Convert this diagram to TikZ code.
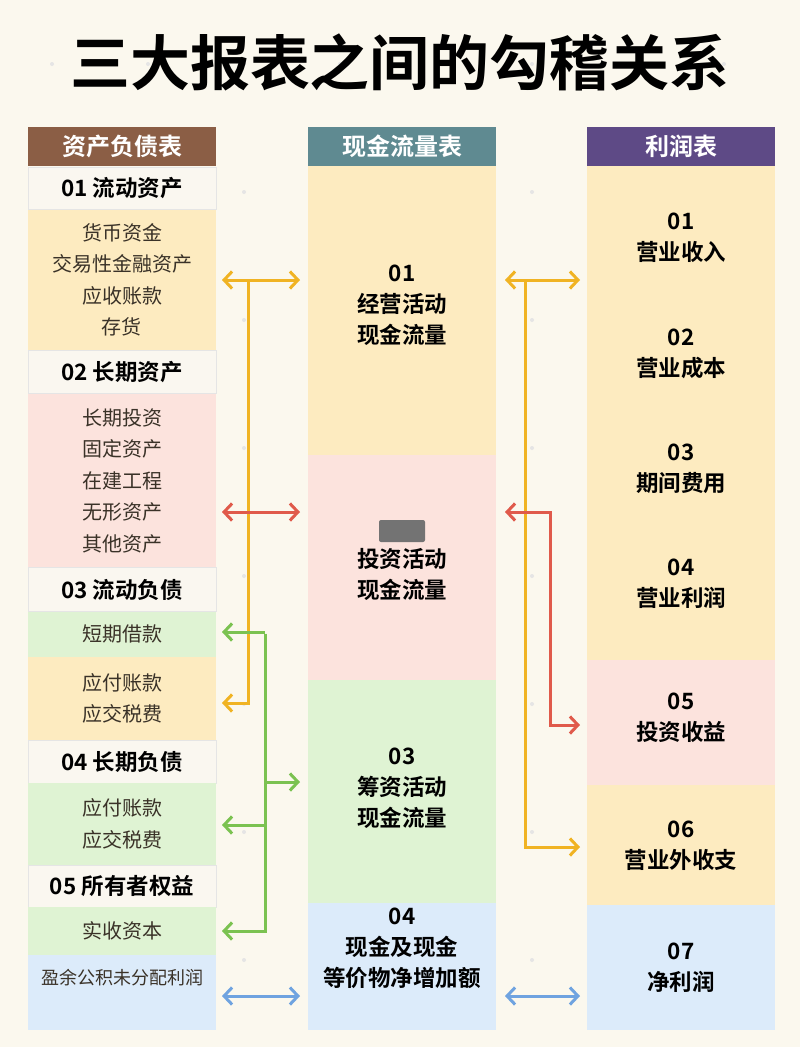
\documentclass[tikz,border=0pt]{standalone}
\usepackage{fontspec}
\newfontfamily\cjk{Noto Sans CJK SC}
\newfontfamily\cjkb{Noto Sans CJK SC Bold}
\usetikzlibrary{arrows.meta}
\definecolor{bg}{HTML}{FBF8EE}
\definecolor{cy}{HTML}{FDEBC0}
\definecolor{cp}{HTML}{FCE3DD}
\definecolor{cg}{HTML}{DFF3D3}
\definecolor{cb}{HTML}{DCEBFA}
\definecolor{cw}{HTML}{FAF7F0}
\definecolor{hbrown}{HTML}{8B5E45}
\definecolor{hteal}{HTML}{5F8A91}
\definecolor{hpurp}{HTML}{5E4A86}
\definecolor{ao}{HTML}{F0B323}
\definecolor{ar}{HTML}{E05A4B}
\definecolor{ag}{HTML}{7BC251}
\definecolor{ab}{HTML}{6FA3E0}
\definecolor{tx}{HTML}{3A3228}
\begin{document}
\begin{tikzpicture}[x=1pt,y=-1pt,
  box/.style={minimum width=188pt,inner sep=0pt,outer sep=0pt,draw=none,align=center,text=tx,font=\cjk\fontsize{20}{31.5}\selectfont},
  head/.style={box,text=white,font=\cjkb\fontsize{24}{26}\selectfont,minimum height=39pt},
  sub/.style={box,fill=cw,draw=black!10,line width=1pt,text=black,font=\cjkb\fontsize{22.5}{26}\selectfont},
  mid/.style={box,text=black,font=\cjkb\fontsize{22.5}{31}\selectfont},
  arr/.style={line width=3pt,-{Straight Barb[length=8pt,width=17pt]}},
  darr/.style={line width=3pt,{Straight Barb[length=8pt,width=17pt]}-{Straight Barb[length=8pt,width=17pt]}}]
\fill[bg] (0,0) rectangle (800,1047);
\useasboundingbox (0,0) rectangle (800,1047);
\foreach \x in {52,148,244,340,436,532,628,724}
 \foreach \y in {64,192,320,448,576,704,832,960}
  \fill[black!10] (\x,\y) circle (2pt);
\node[font=\cjkb\fontsize{60}{66}\selectfont,text=black] (title) at (400,62) {三大报表之间的勾稽关系};
% left column
\node[head,fill=hbrown] (lh) at (122,146.5) {资产负债表};
\node[sub,minimum height=42pt] (l1) at (122,188) {01 流动资产};
\node[box,fill=cy,minimum height=141pt] (l1b) at (122,280) {货币资金\\交易性金融资产\\应收账款\\存货};
\node[sub,minimum height=43pt] (l2) at (122,372) {02 长期资产};
\node[box,fill=cp,minimum height=174pt] (l2b) at (122,480.5) {长期投资\\固定资产\\在建工程\\无形资产\\其他资产};
\node[sub,minimum height=44pt] (l3) at (122,589.5) {03 流动负债};
\node[box,fill=cg,minimum height=45pt] (l3a) at (122,634) {短期借款};
\node[box,fill=cy,minimum height=83pt] (l3b) at (122,698.5) {应付账款\\应交税费};
\node[sub,minimum height=43pt] (l4) at (122,761.5) {04 长期负债};
\node[box,fill=cg,minimum height=82pt] (l4b) at (122,824) {应付账款\\应交税费};
\node[sub,minimum height=42pt] (l5) at (122,886) {05 所有者权益};
\node[box,fill=cg,minimum height=48pt] (l5a) at (122,931) {实收资本};
\node[box,fill=cb,minimum height=75pt,anchor=north] (l5b) at (122,955) {};
\node[text=tx,font=\cjk\fontsize{18}{22}\selectfont] (l5bt) at (122,978) {盈余公积未分配利润};
% middle column
\node[head,fill=hteal] (mh) at (402,146.5) {现金流量表};
\node[box,fill=cy,minimum height=289pt] (m1) at (402,310.5) {};
\node[mid] (m1t) at (402,305) {01\\经营活动\\现金流量};
\node[box,fill=cp,minimum height=225pt] (m2) at (402,567.5) {};
\node[fill=black!55,rounded corners=2pt,minimum width=46pt,minimum height=22pt,inner sep=0pt] (m2i) at (402,531) {};
\node[mid] (m2t) at (402,574) {投资活动\\现金流量};
\node[box,fill=cg,minimum height=223pt] (m3) at (402,791.5) {};
\node[mid] (m3t) at (402,788) {03\\筹资活动\\现金流量};
\node[box,fill=cb,minimum height=127pt] (m4) at (402,966.5) {};
\node[mid] (m4t) at (402,948) {04\\现金及现金\\等价物净增加额};
% right column
\node[head,fill=hpurp] (rh) at (681,146.5) {利润表};
\node[box,fill=cy,minimum height=494pt] (r1) at (681,413) {};
\node[mid] (r1a) at (681,238) {01\\营业收入};
\node[mid] (r1b) at (681,354) {02\\营业成本};
\node[mid] (r1c) at (681,469) {03\\期间费用};
\node[mid] (r1d) at (681,584) {04\\营业利润};
\node[box,fill=cp,minimum height=125pt] (r2) at (681,722.5) {};
\node[mid] (r2t) at (681,718) {05\\投资收益};
\node[box,fill=cy,minimum height=120pt] (r3) at (681,845) {};
\node[mid] (r3t) at (681,846) {06\\营业外收支};
\node[box,fill=cb,minimum height=125pt] (r4) at (681,967.5) {};
\node[mid] (r4t) at (681,968) {07\\净利润};
% left connectors
\coordinate (la1) at (222,280); \coordinate (la2) at (300,280);
\coordinate (lo1) at (248,280); \coordinate (lo2) at (248,703); \coordinate (lo3) at (222,703);
\draw[darr,ao] (la1) -- (la2);
\draw[arr,ao] (lo1) -- (lo2) -- (lo3);
\coordinate (lr1) at (222,512); \coordinate (lr2) at (300,512);
\draw[darr,ar] (lr1) -- (lr2);
\coordinate (lg0) at (265,632); \coordinate (lg1) at (222,632);
\coordinate (lg2) at (265,931); \coordinate (lg3) at (222,931);
\coordinate (lg4) at (265,782); \coordinate (lg5) at (300,782);
\coordinate (lg6) at (265,825); \coordinate (lg7) at (222,825);
\draw[arr,ag] (lg0) -- (lg1);
\draw[arr,ag] ([yshift=-1.5pt]lg0) -- (lg2) -- (lg3);
\draw[arr,ag] (lg4) -- (lg5);
\draw[arr,ag] (lg6) -- (lg7);
\coordinate (lb1) at (222,996); \coordinate (lb2) at (300,996);
\draw[darr,ab] (lb1) -- (lb2);
% right connectors
\coordinate (ra1) at (505,280); \coordinate (ra2) at (580,280);
\draw[darr,ao] (ra1) -- (ra2);
\coordinate (ro1) at (525,280); \coordinate (ro2) at (525,847); \coordinate (ro3) at (580,847);
\draw[arr,ao] (ro1) -- (ro2) -- (ro3);
\coordinate (rr1) at (550,512); \coordinate (rr0) at (505,512); \coordinate (rr2) at (550,725); \coordinate (rr3) at (580,725);
\draw[arr,ar] ([xshift=1.5pt]rr1) -- (rr0);
\draw[arr,ar] (rr1) -- (rr2) -- (rr3);
\coordinate (rb1) at (505,996); \coordinate (rb2) at (580,996);
\draw[darr,ab] (rb1) -- (rb2);
\end{tikzpicture}
\end{document}
